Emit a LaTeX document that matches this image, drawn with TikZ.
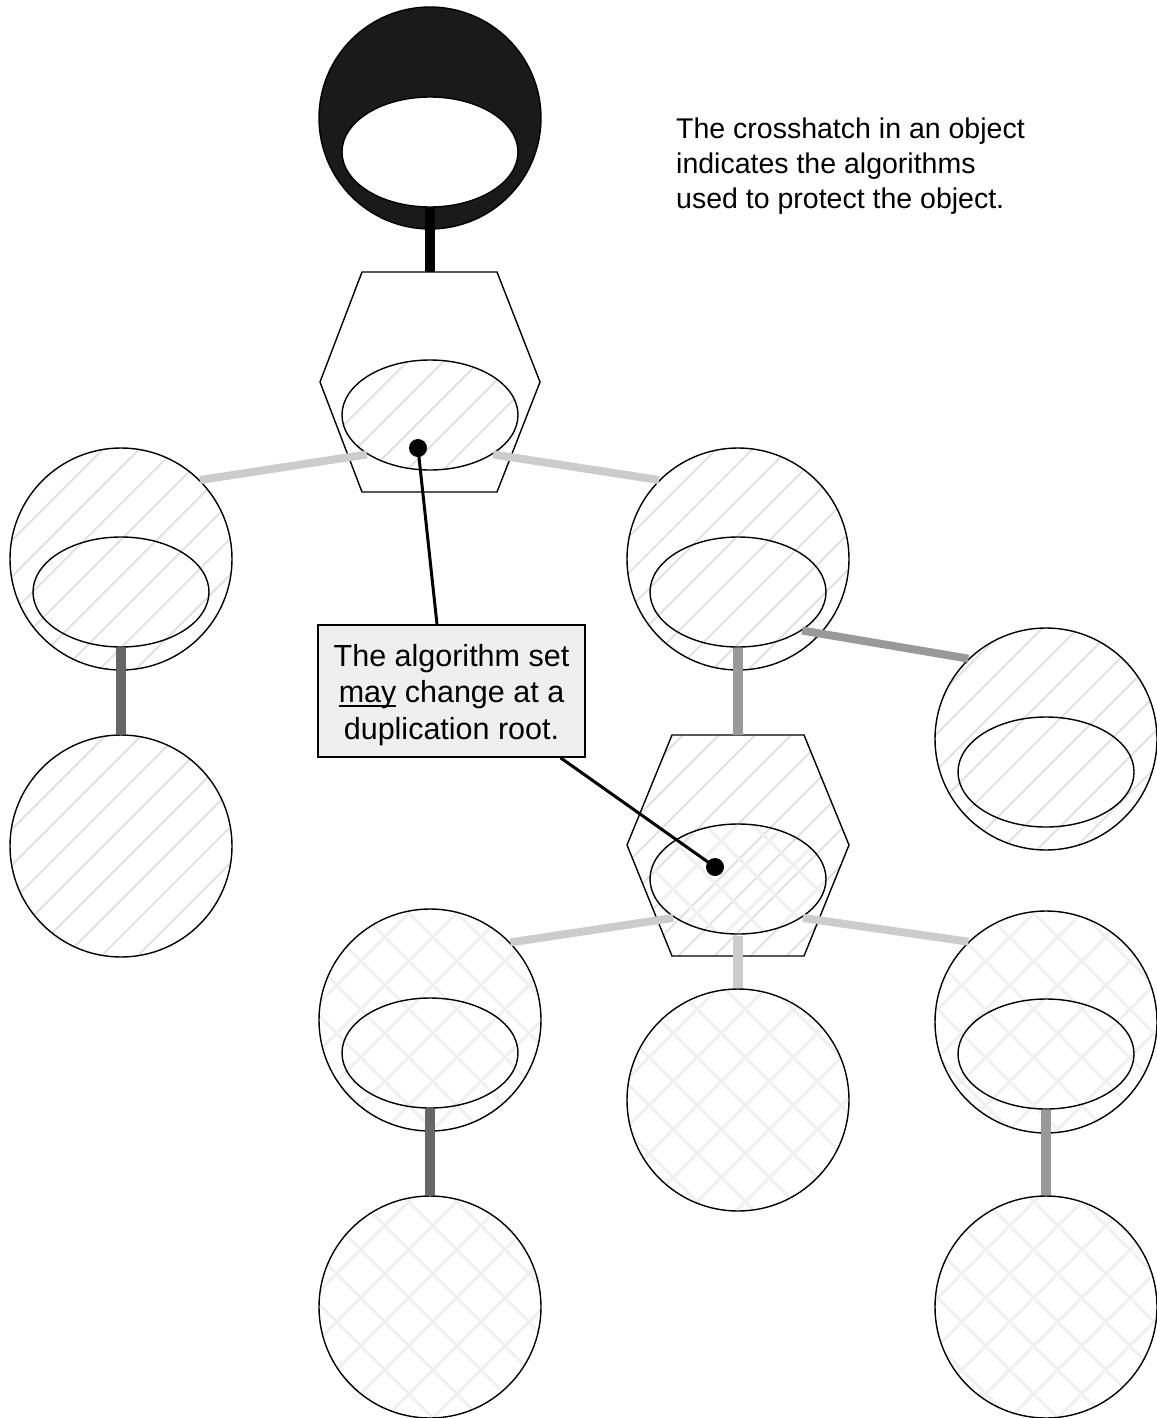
\documentclass[tikz,border=0pt]{standalone}
\usepackage{fontspec}
\setmainfont{Liberation Sans}
\usetikzlibrary{shapes.geometric,patterns.meta,calc}

\definecolor{hatchgray}{HTML}{E0E0E0}
\definecolor{crossgray}{HTML}{F0F0F0}
\definecolor{linklight}{HTML}{CCCCCC}
\definecolor{linkmid}{HTML}{999999}
\definecolor{linkdark}{HTML}{666666}
\definecolor{boxgray}{HTML}{EFEFEF}
\definecolor{rootblack}{HTML}{1A1A1A}

\newsavebox\wordbox
\newcommand\underword[1]{\sbox\wordbox{#1}\rlap{\rule[-4.5pt]{\wd\wordbox}{2pt}}\usebox\wordbox}

\begin{document}
\begin{tikzpicture}[x=1pt,y=-1pt,
  obj/.style={circle, draw, line width=1.4pt, minimum size=222pt, inner sep=0pt},
  inner/.style={ellipse, draw, line width=1.4pt, minimum width=176pt, minimum height=110pt, inner sep=0pt},
  hatchA/.style={pattern={Lines[angle=45,distance=25.5pt,line width=1.9pt]}, pattern color=hatchgray},
  hatchX/.style={pattern={Hatch[angle=45,distance=34pt,line width=3pt]}, pattern color=crossgray},
  hexside/.style={draw, line width=1.4pt},
  link/.style={line width=8pt},
  stem/.style={line width=10pt},
  dot/.style={circle, fill=black, minimum size=18pt, inner sep=0pt},
  callout/.style={line width=3pt},
  notebox/.style={draw, line width=1.5pt, fill=boxgray, minimum width=267pt, minimum height=132pt,
    inner sep=0pt, align=center, font=\fontsize{30.5pt}{36.5pt}\selectfont}
]
\useasboundingbox (0,0) rectangle (1156,1418);

% root object
\node[obj, fill=rootblack] (T) at (430,118) {};
\node[inner, fill=white] (Te) at (430,152) {};

% first duplication root
\draw[hexside, fill=white] (362,272) -- (497,272) -- (540,382) -- (497,492) -- (362,492) -- (320,382) -- cycle;
\coordinate (H1top) at (430,272);
\node[inner, hatchA] (H1e) at (430,415) {};

% left branch
\node[obj, hatchA] (L1) at (121,559) {};
\node[inner] (L1e) at (121,592) {};
\node[obj, hatchA] (L2) at (121,846) {};

% right branch
\node[obj, hatchA] (R1) at (738,559) {};
\node[inner] (R1e) at (738,592) {};
\node[obj, hatchA] (FR) at (1046,739) {};
\node[inner] (FRe) at (1046,772) {};

% second duplication root
\draw[hexside, hatchA] (672,735) -- (804,735) -- (849,845) -- (804,956) -- (672,956) -- (627,845) -- cycle;
\coordinate (H2top) at (738,735);
\node[inner, hatchX] (H2e) at (738,879) {};

% crosshatched descendants
\node[obj, hatchX] (BL1) at (430,1020) {};
\node[inner] (BL1e) at (430,1053) {};
\node[obj, hatchX] (BL2) at (430,1307) {};
\node[obj, hatchX] (BM) at (738,1100) {};
\node[obj, hatchX] (BR1) at (1046,1022) {};
\node[inner] (BR1e) at (1046,1054) {};
\node[obj, hatchX] (BR2) at (1046,1307) {};

% connectors
\draw[stem, black] (Te.south) -- (H1top);
\draw[link, linklight] (H1e.212) -- (L1.45);
\draw[link, linklight] (H1e.328) -- (R1.135);
\draw[stem, linkdark] (L1e.south) -- (L2.north);
\draw[stem, linkmid] (R1e.south) -- (H2top);
\draw[link, linkmid] (R1e.329) -- (FR.134);
\draw[link, linklight] (H2e.211) -- (BL1.44);
\draw[link, linklight] (H2e.329) -- (BR1.134);
\draw[stem, linklight] (H2e.south) -- (BM.north);
\draw[stem, linkdark] (BL1e.south) -- (BL2.north);
\draw[stem, linkmid] (BR1e.south) -- (BR2.north);

% callout
\node[dot] (D1) at (418,448) {};
\node[dot] (D2) at (715,867) {};
\node[notebox] (note) at (451.5,691) {\rule{0pt}{30pt}The algorithm set\\\underword{may} change at a\\duplication root.};
\draw[callout] (D1.center) -- ($(note.north west)!0.446!(note.north east)$);
\draw[callout] ($(note.south west)!0.906!(note.south east)$) -- (D2.center);

% legend text
\node[anchor=north west, align=left, inner sep=0pt, font=\fontsize{28.5pt}{35pt}\selectfont] (legend) at (676,118)
  {The crosshatch in an object\\indicates the algorithms\\used to protect the object.};
\end{tikzpicture}
\end{document}
